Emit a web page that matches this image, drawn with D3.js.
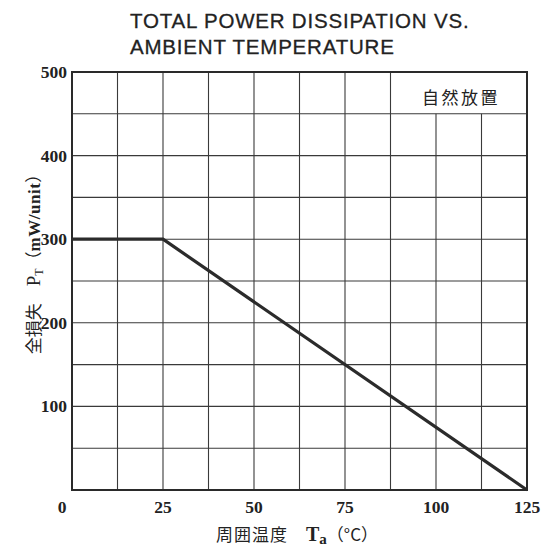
<!DOCTYPE html>
<html>
<head>
<meta charset="utf-8">
<script src="https://cdn.jsdelivr.net/npm/d3@7"></script>
<style>
  body { margin: 0; background: #fff; }
  svg { display: block; }
</style>
</head>
<body>
<svg id="chart" width="543" height="548"></svg>
<script>
// data
const tempPoints = [0, 25, 125];
const powerPoints = [300, 300, 0];
const xTicks = [0, 25, 50, 75, 100, 125];
const yTicks = [100, 200, 300, 400, 500];
const xGrid = [12.5, 25, 37.5, 50, 62.5, 75, 87.5, 100, 112.5];
const yGrid = [50, 100, 150, 200, 250, 300, 350, 400, 450];

const svg = d3.select('#chart');
const plotLeft = 72, plotRight = 527, plotTop = 72, plotBottom = 490;

const x = d3.scaleLinear().domain([0, 125]).range([plotLeft, plotRight]);
const y = d3.scaleLinear().domain([0, 500]).range([plotBottom, plotTop]);

const ink = '#2a2a2a';
const serif = '"Liberation Serif", "DejaVu Serif", serif';
const cjk = '"Noto Sans CJK JP", sans-serif';

// title
const title = svg.append('text')
  .attr('font-family', '"Liberation Sans", Arial, sans-serif')
  .attr('font-size', 20.5)
  .attr('letter-spacing', 0.8)
  .attr('fill', '#222')
  .attr('stroke', '#222')
  .attr('stroke-width', 0.3);
title.append('tspan').attr('x', 130).attr('y', 28).text('TOTAL POWER DISSIPATION VS.');
title.append('tspan').attr('x', 130).attr('y', 54).text('AMBIENT TEMPERATURE');

// grid
const grid = svg.append('g').attr('stroke', '#3a3a3a').attr('stroke-width', 1.1);
grid.selectAll('line.v')
  .data(xGrid)
  .enter()
  .append('line')
  .attr('class', 'v')
  .attr('x1', d => x(d)).attr('x2', d => x(d))
  .attr('y1', d => d > 87.5 ? y(450) : y(500))
  .attr('y2', y(0));

grid.selectAll('line.h')
  .data(yGrid)
  .enter()
  .append('line')
  .attr('class', 'h')
  .attr('x1', x(0)).attr('x2', x(125))
  .attr('y1', d => y(d)).attr('y2', d => y(d));

// border
svg.append('rect')
  .attr('x', x(0)).attr('y', y(500))
  .attr('width', x(125) - x(0)).attr('height', y(0) - y(500))
  .attr('fill', 'none')
  .attr('stroke', ink)
  .attr('stroke-width', 2);

// power curve
const line = d3.line()
  .x(d => x(d[0]))
  .y(d => y(d[1]));

svg.append('path')
  .datum(tempPoints.map((t, i) => [t, powerPoints[i]]))
  .attr('d', line)
  .attr('fill', 'none')
  .attr('stroke', '#2b2b2b')
  .attr('stroke-width', 3.2);

// tick labels
svg.append('g')
  .selectAll('text')
  .data(xTicks)
  .enter()
  .append('text')
  .attr('x', d => d === 0 ? x(d) - 10 : x(d))
  .attr('y', 513)
  .attr('text-anchor', 'middle')
  .attr('font-family', serif)
  .attr('font-weight', 'bold')
  .attr('font-size', 17.5)
  .attr('fill', '#222')
  .text(d => d);

svg.append('g')
  .selectAll('text')
  .data(yTicks)
  .enter()
  .append('text')
  .attr('x', plotLeft - 5)
  .attr('y', d => y(d) + 6)
  .attr('text-anchor', 'end')
  .attr('font-family', serif)
  .attr('font-weight', 'bold')
  .attr('font-size', 17.5)
  .attr('fill', '#222')
  .text(d => d);

// legend note
svg.append('text')
  .attr('x', 461)
  .attr('y', 104)
  .attr('text-anchor', 'middle')
  .attr('font-family', cjk)
  .attr('font-size', 17)
  .attr('letter-spacing', 2.5)
  .attr('fill', '#222')
  .text('自然放置');

// x axis label
const xl = svg.append('text')
  .attr('x', 297)
  .attr('y', 541)
  .attr('text-anchor', 'middle')
  .attr('fill', '#222')
  .attr('font-size', 17);
xl.append('tspan').attr('font-family', cjk).attr('letter-spacing', 1).text('周囲温度　');
xl.append('tspan').attr('font-family', serif).attr('font-weight', 'bold').attr('font-size', 20).text('T');
xl.append('tspan').attr('font-family', serif).attr('font-weight', 'bold').attr('font-size', 15).attr('dy', 3).text('a');
xl.append('tspan').attr('font-family', cjk).attr('dy', -3).text('（°C）');

// y axis label
const yl = svg.append('text')
  .attr('transform', 'translate(40,260) rotate(-90)')
  .attr('text-anchor', 'middle')
  .attr('fill', '#222')
  .attr('font-size', 17);
yl.append('tspan').attr('font-family', cjk).text('全損失　');
yl.append('tspan').attr('font-family', serif).attr('font-size', 19).text('P');
yl.append('tspan').attr('font-family', serif).attr('font-size', 12).attr('dy', 3).text('T');
yl.append('tspan').attr('font-family', cjk).attr('dy', -3).text('（');
yl.append('tspan').attr('font-family', serif).attr('font-weight', 'bold').attr('letter-spacing', 0.5).text('mW/unit');
yl.append('tspan').attr('font-family', cjk).text('）');
</script>
</body>
</html>
